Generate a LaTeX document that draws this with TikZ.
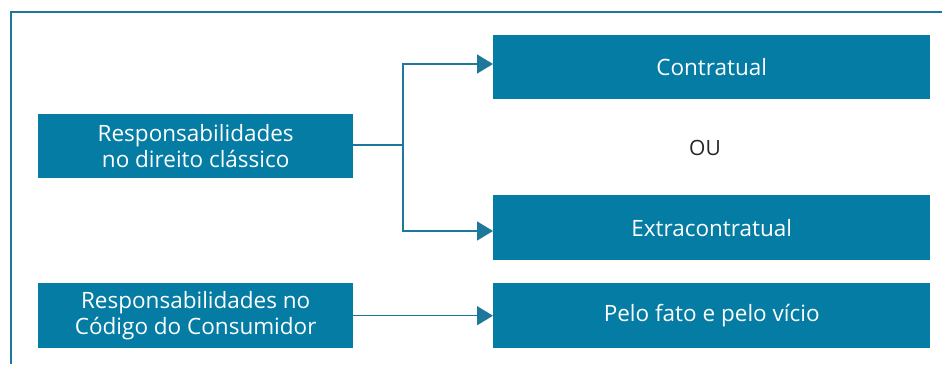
\documentclass[tikz,border=0pt]{standalone}
\usepackage{fontspec}
\setmainfont{Open Sans}
\usetikzlibrary{arrows.meta}
\definecolor{boxteal}{RGB}{4,124,163}
\definecolor{lineteal}{RGB}{30,120,155}
\tikzset{
  every picture/.style={x=1pt,y=-1pt},
  tealbox/.style={fill=boxteal, draw=none, text=white, font=\fontsize{22.5}{26}\selectfont,
    align=center, inner sep=0pt, anchor=north west},
  link/.style={draw=lineteal, line width=1.4pt,
    -{Triangle[length=16pt,width=19pt]}},
  plain/.style={draw=lineteal, line width=1.4pt},
}
\begin{document}
\begin{tikzpicture}
  \useasboundingbox (0,0) rectangle (942,364);
  % frame: top rule and left rule
  \draw[lineteal, line width=1.3pt] (942,12) -- (11,12) -- (11,364);

  % left boxes
  \node[tealbox, minimum width=315pt, minimum height=64pt] (classico) at (38,114)
    {Responsabilidades\\no direito clássico};
  \node[tealbox, minimum width=315pt, minimum height=65pt] (consumidor) at (38,283)
    {Responsabilidades no\\Código do Consumidor};

  % right boxes
  \node[tealbox, minimum width=437pt, minimum height=64pt] (contratual) at (493,35)
    {Contratual};
  \node[tealbox, minimum width=437pt, minimum height=65pt] (extra) at (493,195)
    {Extracontratual};
  \node[tealbox, minimum width=437pt, minimum height=65pt] (fato) at (493,283)
    {Pelo fato e pelo vício};

  \node[font=\fontsize{21}{25}\selectfont, text=black!85] (ou) at (705,148) {OU};

  % branch from the classical box
  \coordinate (fork) at (403,145);
  \draw[plain] (classico.east |- fork) -- (fork);
  \draw[link] (fork) -- (403,64) -- (contratual.west |- 0,64);
  \draw[link] (fork) -- (403,231) -- (extra.west |- 0,231);

  % consumer code connector
  \draw[link] (consumidor.east) -- (fato.west);
\end{tikzpicture}
\end{document}
